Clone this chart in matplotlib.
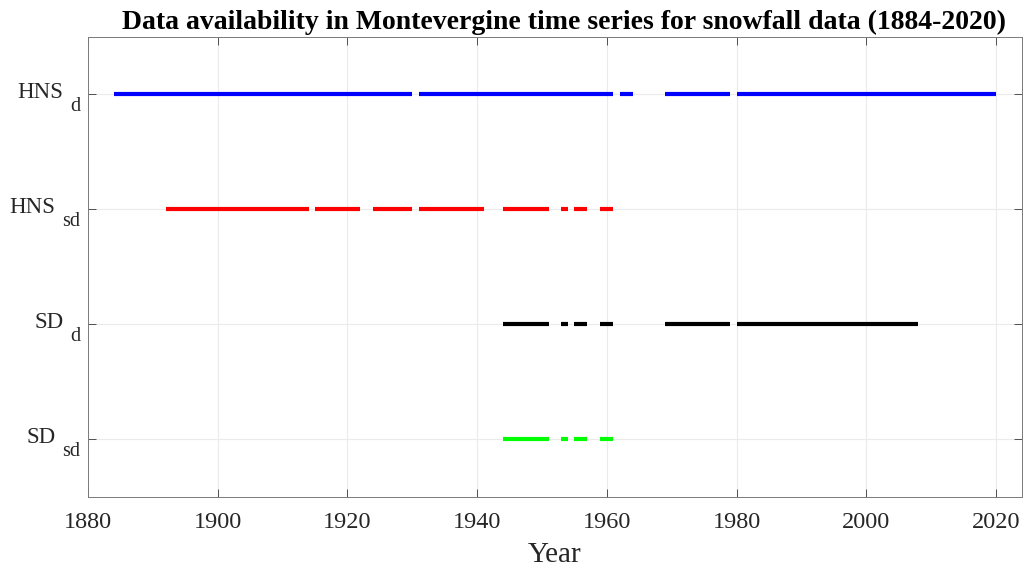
import matplotlib
matplotlib.use("Agg")
import matplotlib.pyplot as plt

plt.rcParams['font.family'] = ['Liberation Serif', 'DejaVu Serif']

label_main = ['HNS', 'HNS', 'SD', 'SD']
label_sub = ['d', 'sd', 'd', 'sd']
series_colors = ['#0000ff', '#ff0000', '#000000', '#00ff00']

hns_d = [(1884, 1930), (1931, 1961), (1962, 1964), (1969, 1979), (1980, 2020)]
hns_sd = [(1892, 1914), (1915, 1922), (1924, 1930), (1931, 1941), (1944, 1951),
          (1953, 1954), (1955, 1957), (1959, 1961)]
sd_d = [(1944, 1951), (1953, 1954), (1955, 1957), (1959, 1961), (1969, 1979), (1980, 2008)]
sd_sd = [(1944, 1951), (1953, 1954), (1955, 1957), (1959, 1961)]
series = [hns_d, hns_sd, sd_d, sd_sd]

x_ticks = [1880, 1900, 1920, 1940, 1960, 1980, 2000, 2020]

DPI = 100
fig = plt.figure(figsize=(10.27, 5.70), dpi=DPI)
ax = fig.add_axes([0.0857, 0.1281, 0.9094, 0.807])

ypos = [4, 3, 2, 1]
for segs, y, c in zip(series, ypos, series_colors):
    for s, e in segs:
        ax.plot([s, e], [y, y], color=c, lw=3.0, solid_capstyle='butt')

ax.set_xlim(1880, 2024)
ax.set_ylim(0.5, 4.5)
ax.set_xticks(x_ticks)
ax.set_yticks(ypos)
ax.set_yticklabels([])
ax.grid(True, color='#ebebeb', lw=0.8)
ax.set_axisbelow(True)
ax.tick_params(direction='in', top=True, right=True, length=6, width=0.7,
               color='#505050', labelsize=17.5, labelcolor='#262626')
ax.tick_params(axis='x', pad=11)
for sp in ax.spines.values():
    sp.set_color('#7a7a7a')
    sp.set_linewidth(0.7)
ax.set_xlabel('Year', fontsize=21, color='#262626', labelpad=6)

# y tick labels: main text plus lowered subscript
px = 72.0 / DPI
fig.canvas.draw()
renderer = fig.canvas.get_renderer()
ytr = ax.get_yaxis_transform()
for main, sub, y in zip(label_main, label_sub, ypos):
    t_sub = ax.annotate(sub, xy=(0, y), xycoords=ytr,
                        xytext=(-7.5 * px, -16.7 * px), textcoords='offset points',
                        ha='right', va='baseline', fontsize=14.5, color='#262626')
    w = t_sub.get_window_extent(renderer).width
    ax.annotate(main, xy=(0, y), xycoords=ytr,
                xytext=(-(7.5 + w + 7.0) * px, -3.5 * px), textcoords='offset points',
                ha='right', va='baseline', fontsize=16.5, color='#262626')

fig.text(563.5 / 1027, 1 - 29.0 / 570,
         'Data availability in Montevergine time series for snowfall data (1884-2020)',
         fontsize=20, fontweight='bold', ha='center', va='baseline')

fig.savefig('out.png', dpi=DPI)
